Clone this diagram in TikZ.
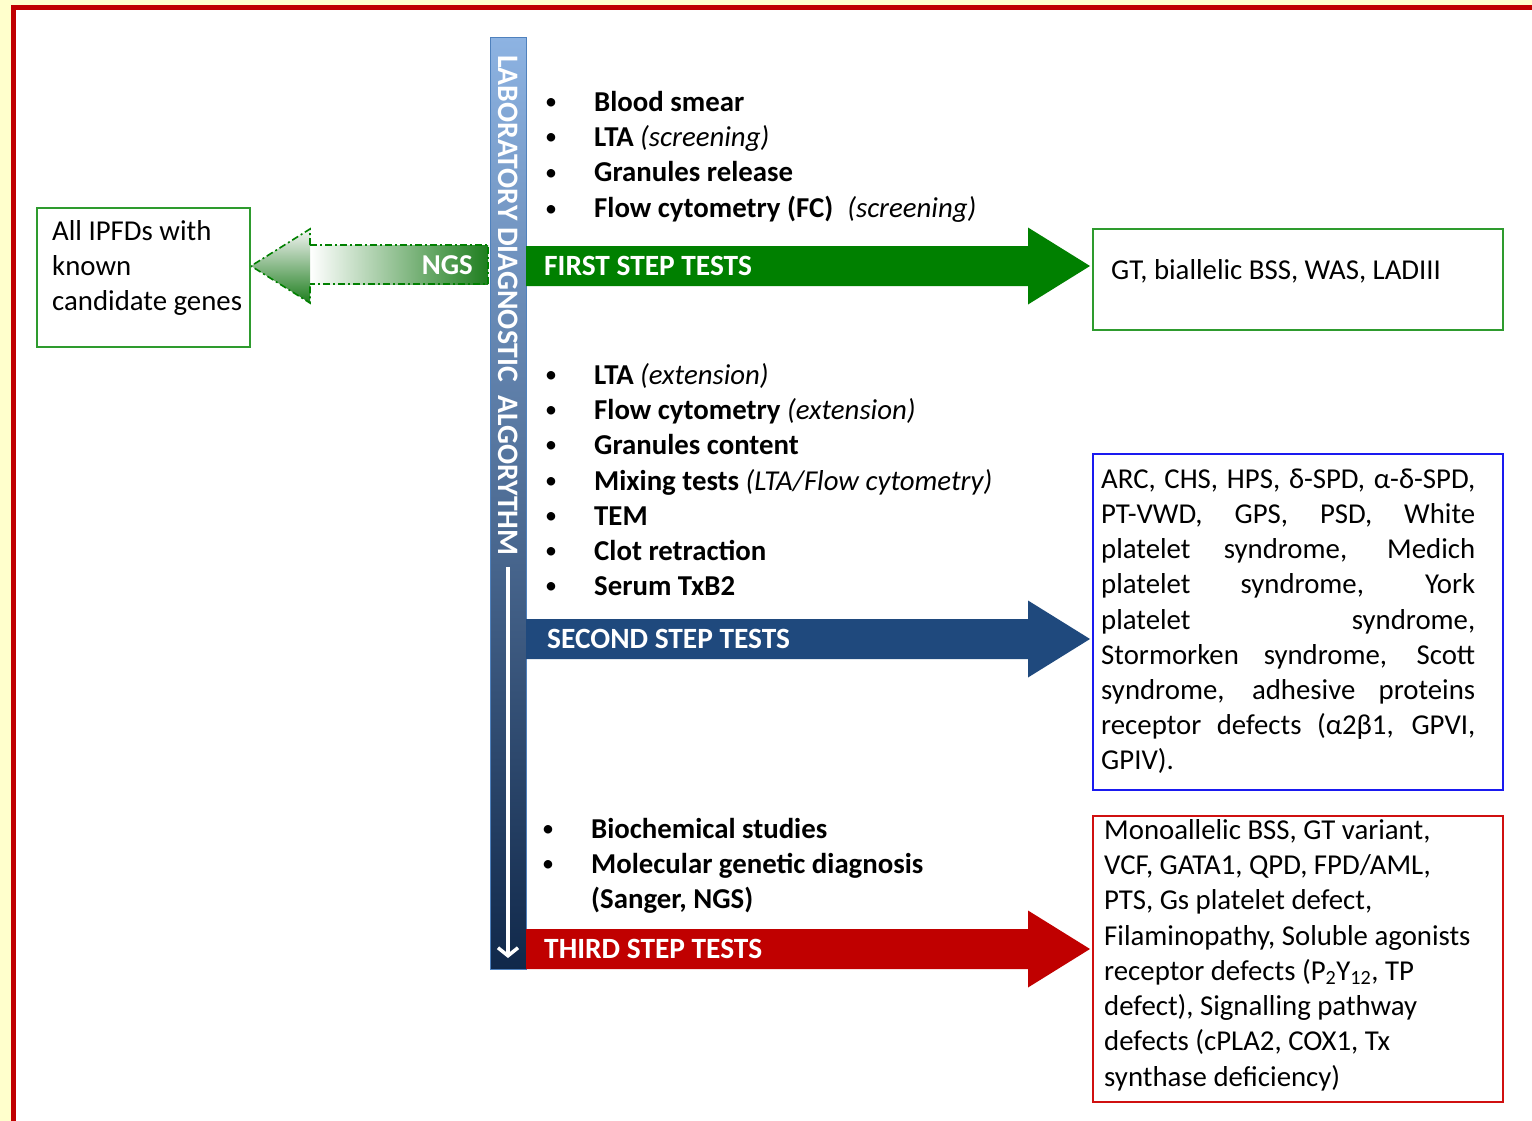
\documentclass[tikz,border=0pt]{standalone}
\usepackage{fontspec}
\setmainfont{Carlito}
\usetikzlibrary{arrows.meta}
\definecolor{bgyel}{HTML}{FFFFCC}
\definecolor{framered}{HTML}{C00000}
\definecolor{grnA}{HTML}{008000}
\definecolor{grnB}{HTML}{2E9B2E}
\definecolor{navyA}{HTML}{1F497D}
\definecolor{redA}{HTML}{C00000}
\definecolor{blueB}{HTML}{1A1AF0}
\definecolor{redB}{HTML}{D01010}
\definecolor{barTop}{HTML}{8DB3E2}
\definecolor{barMid}{HTML}{5676A9}
\definecolor{barBot}{HTML}{10284A}
\definecolor{barEdge}{HTML}{4F81BD}
\definecolor{ngsG}{HTML}{1E7E1E}
\newcommand\basefont{\fontsize{28.8}{35.2}\selectfont}
\newcommand\stepArrow[2]{%
  \fill[#1] (526,{#2-20}) -- (1028,{#2-20}) -- (1028,{#2-38.5}) -- (1090,#2)
    -- (1028,{#2+38.5}) -- (1028,{#2+20}) -- (526,{#2+20}) -- cycle;}
\tikzset{
  frm/.style={draw, line width=2pt, inner sep=0pt, anchor=north west},
  txt/.style={anchor=base west, inner sep=0pt, font=\basefont},
  itm/.style={anchor=base west, inner sep=0pt, font=\basefont\bfseries},
  bul/.style={anchor=base, inner sep=0pt, font=\fontsize{24}{30}\selectfont},
  lab/.style={anchor=base west, inner sep=0pt, text=white, font=\fontsize{29.4}{35}\selectfont\bfseries},
  ngsline/.style={draw=grnA, line width=1.6pt, dash pattern=on 7pt off 3pt on 2pt off 3pt}
}
\begin{document}
\begin{tikzpicture}[x=1pt, y=-1pt]
\useasboundingbox (0,0) rectangle (1532,1121);
% background and frame
\fill[bgyel] (0,0) rectangle (1532,1121);
\fill[framered] (11,5) rectangle (1532,1121);
\fill[white] (16,10) rectangle (1532,1121);

% vertical bar
\node[anchor=north west, inner sep=0pt, draw=barEdge, line width=1.2pt,
  minimum width=36pt, minimum height=932pt,
  top color=barTop, middle color=barMid, bottom color=barBot] (bar) at (490,37) {};
\node[anchor=west, rotate=-90, inner sep=0pt, text=white, font=\fontsize{29.7}{35}\selectfont\bfseries]
  (bartxt) at (508,55) {LABORATORY DIAGNOSTIC\ \ ALGORYTHM};
\coordinate (downA) at (508,567);
\coordinate (downB) at (508,958);
\draw[white, line width=3.5pt, -{Straight Barb[length=8pt, width=20pt]}] (downA) -- (downB);

% step arrows
\stepArrow{grnA}{266}
\stepArrow{navyA}{639}
\stepArrow{redA}{949}
\node[lab] (lab1) at (544,275) {FIRST STEP TESTS};
\node[lab] (lab2) at (547,648) {SECOND STEP TESTS};
\node[lab] (lab3) at (544,958) {THIRD STEP TESTS};

% NGS arrow
\shade[left color=white, right color=ngsG] (310,245) rectangle (488,284);
\shade[top color=white!92!gray, bottom color=ngsG] (310,229) -- (251,266) -- (310,303) -- cycle;
\draw[ngsline] (310,245) -- (488,245) -- (488,284) -- (310,284);
\draw[ngsline] (310,245) -- (310,229) -- (251,266) -- (310,303) -- (310,284);
\node[anchor=base east, inner sep=0pt, text=white, font=\fontsize{28.8}{34}\selectfont\bfseries] (ngs) at (473,274) {NGS};

% boxes
\node[frm, draw=grnB, minimum width=213pt, minimum height=139pt] (ipfd) at (36,207) {};
\node[frm, draw=grnB, minimum width=410pt, minimum height=101pt] (boxA) at (1092,228) {};
\node[frm, draw=blueB, minimum width=410pt, minimum height=336pt] (boxB) at (1092,453) {};
\node[frm, draw=redB, minimum width=410pt, minimum height=286pt] (boxC) at (1092,815) {};

% left box text
\node[txt] (ip1) at (52,240) {All IPFDs with};
\node[txt] (ip2) at (52,275) {known};
\node[txt] (ip3) at (52,310) {candidate genes};

% box A text
\node[txt] (a1) at (1111,279) {GT, biallelic BSS, WAS, LADIII};

% box B text (justified)
\node[txt] (bb1) at (1101,488) {\makebox[374pt][s]{ARC, CHS, HPS, δ-SPD, α-δ-SPD,}};
\node[txt] (bb2) at (1101,523) {\makebox[374pt][s]{PT-VWD, GPS, PSD, White}};
\node[txt] (bb3) at (1101,558) {\makebox[374pt][s]{platelet syndrome, Medich}};
\node[txt] (bb4) at (1101,593) {\makebox[374pt][s]{platelet syndrome, York}};
\node[txt] (bb5) at (1101,629) {\makebox[374pt][s]{platelet syndrome,}};
\node[txt] (bb6) at (1101,664) {\makebox[374pt][s]{Stormorken syndrome, Scott}};
\node[txt] (bb7) at (1101,699) {\makebox[374pt][s]{syndrome, adhesive proteins}};
\node[txt] (bb8) at (1101,734) {\makebox[374pt][s]{receptor defects (α2β1, GPVI,}};
\node[txt] (bb9) at (1101,769) {GPIV).};

% box C text
\node[txt] (c1) at (1104,839) {Monoallelic BSS, GT variant,};
\node[txt] (c2) at (1104,874) {VCF, GATA1, QPD, FPD/AML,};
\node[txt] (c3) at (1104,909) {PTS, Gs platelet defect,};
\node[txt] (c4) at (1104,945) {Filaminopathy, Soluble agonists};
\node[txt] (c5) at (1104,980) {receptor defects (P\textsubscript{2}Y\textsubscript{12}, TP};
\node[txt] (c6) at (1104,1015) {defect), Signalling pathway};
\node[txt] (c7) at (1104,1050) {defects (cPLA2, COX1, Tx};
\node[txt] (c8) at (1104,1086) {synthase deficiency)};

% first step list
\node[bul] (p11) at (551,110) {•};
\node[bul] (p12) at (551,145) {•};
\node[bul] (p13) at (551,180) {•};
\node[bul] (p14) at (551,216) {•};
\node[itm] (i11) at (594,112) {Blood smear};
\node[itm] (i12) at (594,147) {LTA {\mdseries\itshape (screening)}};
\node[itm] (i13) at (594,182) {Granules release};
\node[itm] (i14) at (594,218) {Flow cytometry (FC)\hspace{14pt}{\mdseries\itshape(screening)}};

% second step list
\node[bul] (p21) at (551,382) {•};
\node[bul] (p22) at (551,417) {•};
\node[bul] (p23) at (551,452) {•};
\node[bul] (p24) at (551,488) {•};
\node[bul] (p25) at (551,523) {•};
\node[bul] (p26) at (551,558) {•};
\node[bul] (p27) at (551,593) {•};
\node[itm] (i21) at (594,384) {LTA {\mdseries\itshape (extension)}};
\node[itm] (i22) at (594,419) {Flow cytometry {\mdseries\itshape (extension)}};
\node[itm] (i23) at (594,454) {Granules content};
\node[itm] (i24) at (594,490) {Mixing tests {\mdseries\itshape (LTA/Flow cytometry)}};
\node[itm] (i25) at (594,525) {TEM};
\node[itm] (i26) at (594,560) {Clot retraction};
\node[itm] (i27) at (594,595) {Serum TxB2};

% third step list
\node[bul] (p31) at (548,836) {•};
\node[bul] (p32) at (548,871) {•};
\node[itm] (i31) at (591,838) {Biochemical studies};
\node[itm] (i32) at (591,873) {Molecular genetic diagnosis};
\node[itm] (i33) at (591,908) {(Sanger, NGS)};
\end{tikzpicture}
\end{document}
